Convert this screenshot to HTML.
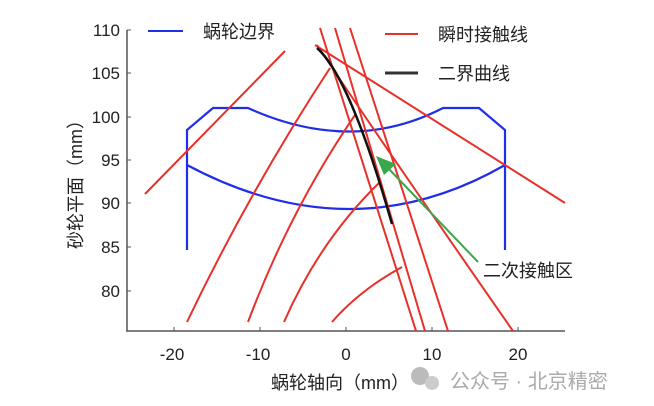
<!DOCTYPE html>
<html><head><meta charset="utf-8"><style>
body{margin:0;background:#fff;}
svg{display:block;font-family:"Liberation Sans","Noto Sans CJK SC",sans-serif;}
</style></head><body>
<svg width="654" height="406" viewBox="0 0 654 406" xmlns="http://www.w3.org/2000/svg">
<g stroke="#555" stroke-width="1.5" fill="none">
<line x1="127" y1="30" x2="127" y2="331"/>
<line x1="126" y1="331" x2="565" y2="331"/>
</g>
<g stroke="#555" stroke-width="1">
<line x1="127" y1="30" x2="131" y2="30"/><line x1="127" y1="73" x2="131" y2="73"/>
<line x1="127" y1="117" x2="131" y2="117"/><line x1="127" y1="160" x2="131" y2="160"/>
<line x1="127" y1="203" x2="131" y2="203"/><line x1="127" y1="247" x2="131" y2="247"/>
<line x1="127" y1="291" x2="131" y2="291"/>
<line x1="174" y1="331" x2="174" y2="327"/><line x1="260" y1="331" x2="260" y2="327"/>
<line x1="346" y1="331" x2="346" y2="327"/><line x1="432" y1="331" x2="432" y2="327"/>
<line x1="518" y1="331" x2="518" y2="327"/>
</g>
<g font-size="17" fill="#222" text-anchor="end">
<text x="120" y="36">110</text><text x="120" y="79">105</text><text x="120" y="123">100</text>
<text x="120" y="166">95</text><text x="120" y="209">90</text><text x="120" y="253">85</text>
<text x="120" y="297">80</text>
</g>
<g font-size="17" fill="#222" text-anchor="middle">
<text x="172" y="360">-20</text><text x="258" y="360">-10</text><text x="346" y="360">0</text>
<text x="432" y="360">10</text><text x="518" y="360">20</text>
</g>
<text x="340" y="389" font-size="18" fill="#222" text-anchor="middle">蜗轮轴向（mm）</text>
<text transform="translate(82,180) rotate(-90)" font-size="18" fill="#222" text-anchor="middle">砂轮平面（mm）</text>

<g stroke="#1f2ee8" stroke-width="2.2" fill="none">
<path d="M187,250 L187,130 L213,108 L248,108 Q352,155 443,108 L479,108 L505,130 L505,250"/>
<path d="M187,165 Q352,253 505,165"/>
</g>
<g stroke="#e8302a" stroke-width="2" fill="none">
<line x1="145" y1="194" x2="285" y2="51"/>
<line x1="315" y1="45" x2="565" y2="203"/>
<path d="M187,322 Q250,190 330,68"/>
<path d="M248,322 Q290,210 355,115"/>
<path d="M284,322 Q320,240 380,182"/>
<path d="M332,322 Q360,290 402,267"/>
<line x1="320" y1="28" x2="416" y2="331"/>
<line x1="335" y1="28" x2="425" y2="331"/>
<line x1="350" y1="28" x2="448" y2="331"/>
<path d="M317,45 Q380,140 513,331"/>
</g>
<path d="M317,48 C342,70 368,140 392,224" stroke="#111" stroke-width="2.5" fill="none"/>
<line x1="478" y1="262" x2="388" y2="168" stroke="#3aa84a" stroke-width="2"/>
<polygon points="376,156 396,164 384,175" fill="#3aa84a"/>
<text x="483" y="277" font-size="18" fill="#222">二次接触区</text>

<line x1="148" y1="31" x2="183" y2="31" stroke="#1f2ee8" stroke-width="2"/>
<text x="203" y="38" font-size="18" fill="#222">蜗轮边界</text>
<line x1="385" y1="34" x2="418" y2="34" stroke="#e8302a" stroke-width="2"/>
<text x="438" y="41" font-size="18" fill="#222">瞬时接触线</text>
<line x1="385" y1="73" x2="418" y2="73" stroke="#333" stroke-width="3"/>
<text x="438" y="80" font-size="18" fill="#222">二界曲线</text>

<circle cx="420" cy="376" r="9" fill="#bbb"/>
<circle cx="432" cy="383" r="7" fill="#ccc"/>
<text x="450" y="388" font-size="20" fill="#aaa">公众号 · 北京精密</text>
</svg>
</body></html>
